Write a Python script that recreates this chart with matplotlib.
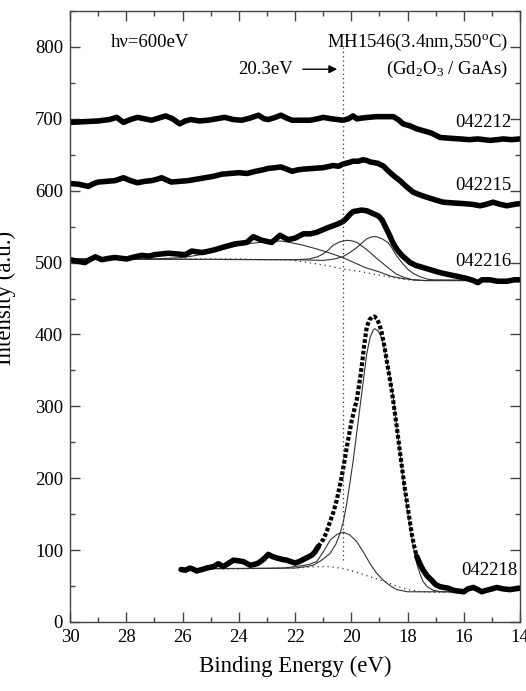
import numpy as np
import matplotlib
matplotlib.use("Agg")
import matplotlib.pyplot as plt
from matplotlib.ticker import MultipleLocator

plt.rcParams['font.family'] = ['Liberation Serif', 'DejaVu Serif']
plt.rcParams['mathtext.fontset'] = 'custom'
plt.rcParams['mathtext.rm'] = 'Liberation Serif'
plt.rcParams['mathtext.it'] = 'Liberation Serif:italic'

# ---------- spectra (binding energy eV, intensity) ----------
e_212 = [30.0, 29.5, 29.0, 28.6, 28.34, 28.1, 27.85, 27.6, 27.35, 27.1, 26.85, 26.6, 26.35, 26.1, 25.9,
         25.7, 25.4, 25.1, 24.8, 24.5, 24.2, 23.9, 23.6, 23.3, 23.1, 22.95, 22.7, 22.5, 22.3, 22.1,
         21.8, 21.47, 21.2, 21.0, 20.7, 20.29, 20.1, 19.94, 19.8, 19.63, 19.4, 19.1, 18.8, 18.5, 18.3,
         18.16, 17.9, 17.67, 17.4, 17.14, 16.84, 16.5, 16.13, 15.8, 15.5, 15.07, 14.8, 14.6, 14.3, 14.0]
i_212 = [695, 696, 697, 699, 702, 695, 699, 702, 700, 698, 701, 704, 700, 693, 697,
         699, 697, 698, 700, 702, 699, 698, 701, 705, 700, 699, 702, 705, 701, 698,
         698, 698, 700, 702, 700, 698, 700, 704, 700, 701, 702, 703, 703, 703, 698,
         693, 690, 686, 683, 680, 674, 673, 672, 671, 672, 670, 671, 672, 671, 672]

e_215 = [30.0, 29.7, 29.35, 29.15, 29.0, 28.7, 28.4, 28.1, 27.85, 27.6, 27.35, 27.1, 26.9, 26.74, 26.4,
         26.1, 25.8, 25.5, 25.2, 24.9, 24.6, 24.3, 24.0, 23.7, 23.4, 23.15, 22.95, 22.7, 22.5, 22.3,
         22.1, 21.9, 21.7, 21.35, 21.0, 20.65, 20.45, 20.3, 20.1, 19.94, 19.75, 19.58, 19.45, 19.33, 19.05,
         18.85, 18.7, 18.5, 18.27, 18.05, 17.8, 17.55, 17.32, 17.0, 16.73, 16.4, 16.0, 15.7, 15.42, 15.2,
         14.96, 14.7, 14.47, 14.2, 14.0]
i_215 = [610, 609, 606, 610, 612, 613, 614, 618, 614, 611, 613, 614, 616, 618, 612,
         613, 614, 616, 618, 620, 623, 624, 625, 624, 627, 629, 631, 632, 633, 630,
         627, 629, 630, 631, 632, 635, 634, 637, 639, 641, 641, 643, 642, 640, 638,
         634, 628, 621, 614, 606, 598, 594, 591, 587, 584, 583, 582, 581, 579, 581,
         584, 581, 579, 581, 582]

e_216 = [30.0, 29.75, 29.47, 29.3, 29.1, 28.87, 28.6, 28.4, 28.2, 27.98, 27.7, 27.45, 27.2, 26.98, 26.75,
         26.5, 26.2, 25.9, 25.67, 25.5, 25.3, 25.05, 24.84, 24.5, 24.13, 23.9, 23.72, 23.48, 23.3, 23.18,
         22.83, 22.53, 22.35, 22.24, 22.0, 21.7, 21.45, 21.23, 20.87, 20.52, 20.3, 20.16, 20.05, 19.93, 19.63,
         19.45, 19.33, 19.04, 18.9, 18.8, 18.65, 18.5, 18.35, 18.2, 17.91, 17.7, 17.44, 17.1, 16.84, 16.5,
         16.25, 15.9, 15.66, 15.5, 15.35, 15.07, 14.8, 14.47, 14.2, 14.0]
i_216 = [504, 502, 500, 504, 508, 504, 506, 507, 506, 505, 508, 510, 509, 511, 512,
         513, 512, 511, 516, 515, 514, 516, 518, 522, 526, 527, 528, 536, 533, 531,
         528, 538, 534, 532, 534, 540, 540, 542, 548, 553, 557, 562, 567, 571, 573,
         572, 570, 565, 559, 551, 539, 526, 517, 510, 500, 496, 493, 489, 486, 483,
         481, 478, 475, 472, 476, 476, 474, 474, 476, 476]

e_218 = [26.05, 25.9, 25.73, 25.6, 25.5, 25.3, 25.14, 24.9, 24.73, 24.55, 24.35, 24.19, 24.0, 23.84, 23.6,
         23.45, 23.3, 23.1, 22.95, 22.8, 22.65, 22.45, 22.3, 22.15, 22.0, 21.85, 21.7, 21.55, 21.4, 21.3,
         21.17, 21.05, 20.99, 20.88, 20.76, 20.64, 20.52, 20.43, 20.34, 20.25, 20.16, 20.07, 19.98, 19.9, 19.81,
         19.72, 19.63, 19.54, 19.45, 19.36, 19.27, 19.18, 19.09, 19.0, 18.92, 18.83, 18.74, 18.65, 18.56, 18.47,
         18.38, 18.29, 18.2, 18.12, 18.03, 17.94, 17.85, 17.76, 17.67, 17.55, 17.44, 17.3, 17.14, 17.0, 16.84,
         16.7, 16.55, 16.37, 16.2, 16.0, 15.85, 15.66, 15.5, 15.36, 15.2, 15.0, 14.83, 14.6, 14.36, 14.2, 14.0]
i_218 = [73, 72, 75, 73, 71, 73, 75, 77, 81, 77, 82, 86, 85, 84, 79,
         80, 82, 88, 94, 91, 89, 87, 86, 84, 82, 84, 87, 90, 93, 97,
         105, 112, 115, 125, 139, 152, 169, 185, 202, 222, 243, 262, 281, 294, 308,
         330, 355, 385, 410, 420, 424, 425, 422, 414, 403, 385, 364, 343, 322, 297,
         271, 243, 216, 192, 169, 146, 123, 105, 91, 80, 72, 64, 58, 52, 49,
         48, 47, 44, 43, 42, 46, 48, 45, 42, 44, 46, 48, 46, 45, 46, 47]

# ---------- fit curves (042216) ----------
bg216_e = [30.0, 26.0, 24.0, 23.0, 22.2, 21.7, 21.2, 20.75, 20.3, 19.75, 19.2, 18.5, 18.0, 17.5, 14.0]
bg216_i = [505, 505, 505, 504, 504, 501, 498, 495, 491, 488, 484, 479, 476, 475, 475]

a216_e = [30.0, 27.0, 26.0, 25.5, 25.0, 24.5, 24.0, 23.5, 23.0, 22.5, 22.18, 21.7, 21.23, 20.75, 20.3,
          19.9, 19.5, 19.0, 18.6, 18.2, 17.8, 17.4, 14.0]
a216_i = [505, 505, 507, 510, 514, 519, 524, 527, 529, 530, 528, 524, 519, 513, 507,
          500, 493, 487, 481, 478, 476, 475, 475]

b216_e = [30.0, 22.0, 21.5, 21.2, 21.0, 20.8, 20.65, 20.4, 20.15, 19.95, 19.8, 19.55, 19.33, 19.1, 18.85,
          18.6, 18.4, 18.1, 17.8, 17.4, 14.0]
b216_i = [505, 504, 505, 508, 512, 518, 524, 529, 531, 530, 528, 521, 514, 506, 498,
          490, 484, 479, 476, 475, 475]

c216_e = [30.0, 22.0, 21.0, 20.6, 20.3, 20.05, 19.8, 19.6, 19.45, 19.25, 19.1, 18.9, 18.7, 18.55, 18.4,
          18.2, 18.0, 17.8, 17.6, 17.3, 17.1, 14.0]
c216_i = [505, 504, 503, 505, 508, 514, 521, 528, 533, 536, 536, 533, 528, 520, 510,
          500, 491, 485, 481, 477, 476, 475]

# ---------- fit curves (042218) ----------
bg218_e = [26.0, 24.0, 22.0, 21.2, 20.8, 20.3, 19.8, 19.5, 19.1, 18.8, 18.4, 18.0, 17.5, 17.0, 16.0]
bg218_i = [74, 74, 75, 77, 77, 74.5, 69, 65, 60, 56, 50, 45, 42, 41.5, 41.5]

s218_e = [26.0, 23.0, 22.4, 21.82, 21.5, 21.23, 21.0, 20.75, 20.5, 20.28, 20.05, 19.81, 19.55, 19.33, 19.1,
          18.86, 18.6, 18.38, 18.0, 17.67, 16.0]
s218_i = [74, 74.5, 75, 78, 80, 84, 97, 114, 122, 125, 121, 112, 96, 81, 68,
          58, 50, 45, 42, 42, 42]

m218_e = [26.0, 22.0, 21.6, 21.35, 21.05, 20.76, 20.55, 20.4, 20.28, 20.16, 20.05, 19.93, 19.81, 19.69, 19.57,
          19.45, 19.33, 19.22, 19.16, 19.05, 18.95, 18.86, 18.74, 18.62, 18.5, 18.38, 18.26, 18.15, 18.03, 17.91,
          17.79, 17.67, 17.55, 17.44, 17.3, 17.08, 16.8, 16.0]
m218_i = [74, 75, 77, 79, 86, 95, 108, 123, 140, 165, 193, 225, 262, 299, 336,
          373, 396, 406, 408, 405, 398, 387, 364, 341, 310, 271, 234, 197, 162, 132,
          104, 81, 66, 56, 49, 44, 42, 42]

labels = ["042212", "042215", "042216", "042218"]
label_y = [695, 607, 501, 72]

# ------------------------------ plotting ------------------------------
fig = plt.figure(figsize=(5.26, 6.91), dpi=100)
ax = fig.add_axes([0.1331, 0.0999, 0.8555, 0.8842])

thin = dict(color='#333333', lw=0.8)
dots = dict(color='#333333', lw=0.9, linestyle=(0, (1, 3)))

ax.plot(bg216_e, bg216_i, **dots)
ax.plot(a216_e, a216_i, **thin)
ax.plot(b216_e, b216_i, **thin)
ax.plot(c216_e, c216_i, **thin)

ax.plot(bg218_e, bg218_i, **dots)
ax.plot(s218_e, s218_i, **thin)
ax.plot(m218_e, m218_i, **thin)

thick = dict(color='black', lw=4.0, solid_joinstyle='round', solid_capstyle='round')
ax.plot(e_212, i_212, **thick)
ax.plot(e_215, i_215, **thick)
ax.plot(e_216, i_216, **thick)

# 042218: the square symbols merge into a line on the flat parts, separate on the peak
e218 = np.array(e_218)
i218 = np.array(i_218)
flat_l = e218 >= 21.17
flat_r = e218 <= 17.67
peak = (e218 <= 21.17) & (e218 >= 17.67)
ax.plot(e218[flat_l], i218[flat_l], **thick)
ax.plot(e218[flat_r], i218[flat_r], **thick)
ax.plot(e218[peak], i218[peak], color='black', lw=3.0, linestyle=(0, (0.9, 0.5)),
        dash_capstyle='butt')

# 20.3 eV marker
ax.plot([20.3, 20.3], [86, 800], color='#333333', lw=0.9, linestyle=(0, (1, 2.5)))
ax.annotate('', xy=(20.5, 769), xytext=(21.72, 769),
            arrowprops=dict(arrowstyle='-|>', color='black', lw=1, mutation_scale=12,
                            shrinkA=0, shrinkB=0))
ax.text(22.07, 769, "20.3eV", ha='right', va='center', fontsize=13.5)

ax.text(28.55, 806, "h\u03bd=600eV", ha='left', va='center', fontsize=13.5)
ax.text(14.42, 806, "MH1546(3.4nm,550$^{\\mathrm{o}}$C)", ha='right', va='center', fontsize=13.5)
ax.text(14.42, 769, "(Gd$_{2}$O$_{3}$ / GaAs)", ha='right', va='center', fontsize=13.5)

for lab, yy in zip(labels, label_y):
    xx = 14.1 if lab == "042218" else 14.3
    ax.text(xx, yy, lab, ha='right', va='center', fontsize=13.5)

ax.set_xlim(30, 14)
ax.set_ylim(0, 850)
ax.set_xticks(np.arange(30, 13, -2))
ax.set_yticks(np.arange(0, 801, 100))
ax.xaxis.set_minor_locator(MultipleLocator(1))
ax.yaxis.set_minor_locator(MultipleLocator(50))
ax.tick_params(which='both', direction='in', top=True, right=True, color='#444444',
               labelsize=13.5, width=1)
ax.tick_params(which='major', length=7, pad=5)
ax.tick_params(which='minor', length=3.5)
for s in ax.spines.values():
    s.set_color('#444444')
    s.set_linewidth(1)

ax.set_xlabel("Binding Energy (eV)", fontsize=16.5, labelpad=7)
ax.set_ylabel("Intensity (a.u.)", fontsize=16.5)
ax.yaxis.set_label_coords(-0.12, 0.53)

fig.savefig("out.png", dpi=100)
